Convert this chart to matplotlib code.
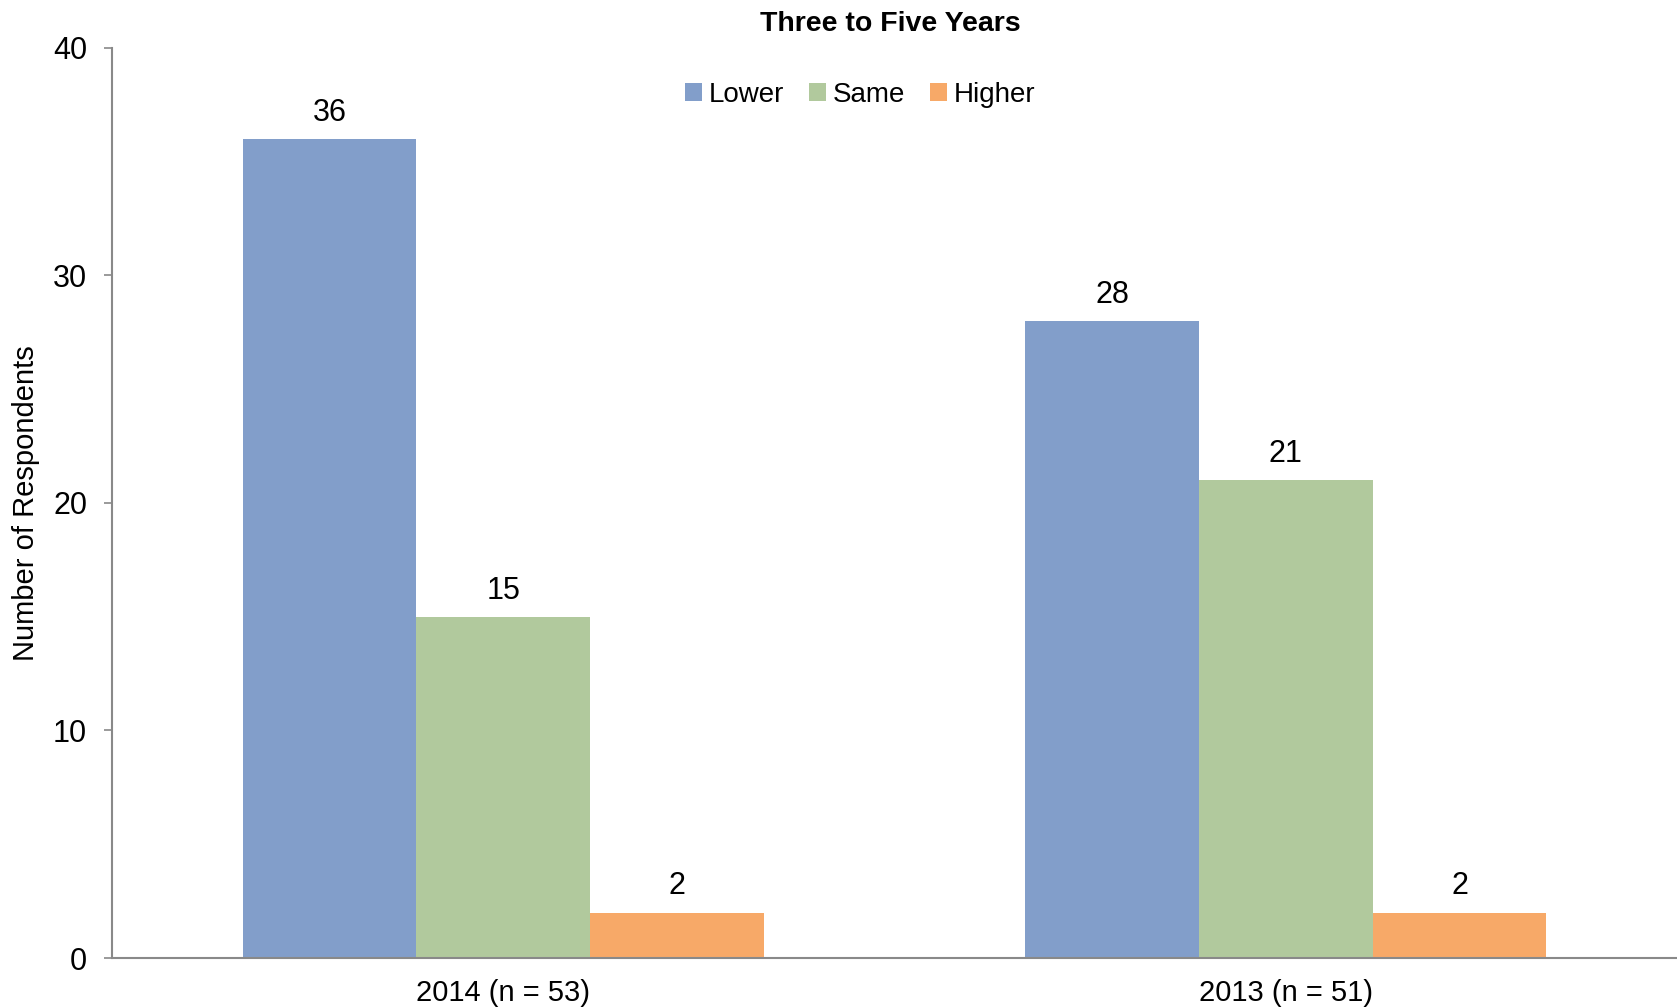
import numpy as np
import matplotlib
matplotlib.use("Agg")
import matplotlib.pyplot as plt

categories = ['2014 (n = 53)', '2013 (n = 51)']
series_names = ['Lower', 'Same', 'Higher']
lower = [36, 28]
same = [15, 21]
higher = [2, 2]
colors = ['#829ECA', '#B1C99D', '#F7A968']

plt.rcParams['font.family'] = ['Liberation Sans', 'DejaVu Sans']

fig = plt.figure(figsize=(16.77, 10.08), dpi=100)
ax = fig.add_axes([0.0668, 0.0496, 0.9332, 0.9028])

x = np.arange(len(categories))
width = 0.222
for i, (name, vals) in enumerate(zip(series_names, [lower, same, higher])):
    bars = ax.bar(x + (i - 1) * width, vals, width, color=colors[i], label=name)
    for b, v in zip(bars, vals):
        ax.annotate(str(v), (b.get_x() + b.get_width() / 2, v),
                    xytext=(0, 8), textcoords='offset points',
                    ha='center', va='bottom', fontsize=22)

ax.set_xlim(-0.5, 1.5)
ax.set_ylim(0, 40)
ax.set_yticks([0, 10, 20, 30, 40])
ax.set_xticks(x)
ax.set_xticklabels(categories)
ax.tick_params(axis='y', length=6, width=1.2, color='#898989', pad=12, labelsize=22)
ax.tick_params(axis='x', length=0, pad=15, labelsize=21)

for s in ['top', 'right']:
    ax.spines[s].set_visible(False)
for s in ['left', 'bottom']:
    ax.spines[s].set_color('#898989')
    ax.spines[s].set_linewidth(1.5)

ax.set_ylabel('Number of Respondents', fontsize=21)
ax.yaxis.set_label_coords(-0.046, 0.5)

fig.text(0.531, 0.976, 'Three to Five Years', ha='center', va='center',
         fontsize=20.5, fontweight='bold')

ax.legend(loc='center', bbox_to_anchor=(0.513, 0.906), bbox_transform=fig.transFigure,
          ncol=3, frameon=False, fontsize=20, handlelength=0.6, handleheight=0.6,
          handletextpad=0.25, columnspacing=0.9)

fig.savefig('out.png', dpi=100)
